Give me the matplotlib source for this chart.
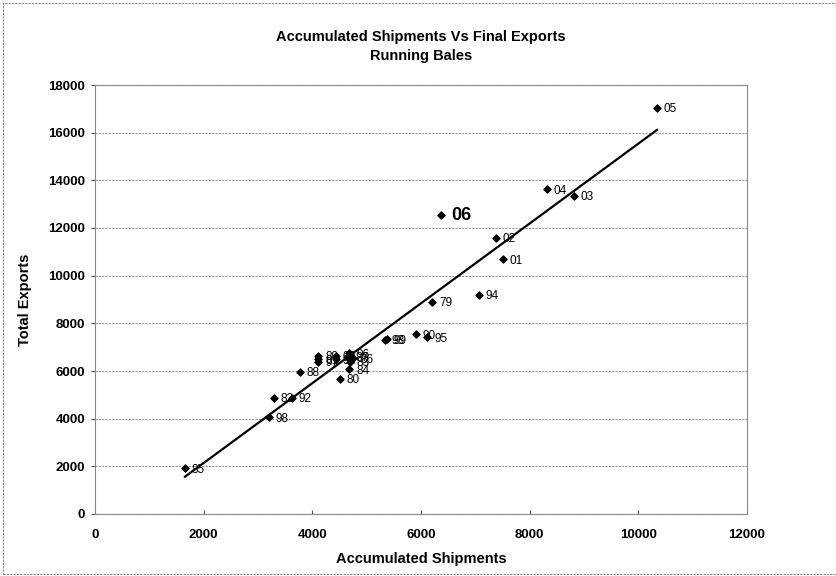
import numpy as np
from matplotlib import pyplot as plt
from matplotlib.patches import Rectangle

# season labels and values
years = ["79", "80", "81", "82", "83", "84", "85", "86", "87", "88", "89", "90", "91", "92",
         "93", "94", "95", "96", "97", "98", "99", "00", "01", "02", "03", "04", "05", "06"]
shipments = [6209, 4510, 4110, 3295, 4694, 4681, 1657, 4754, 4661, 3773, 4110, 5901, 4436, 3620,
             5338, 7062, 6117, 4681, 4110, 3203, 5369, 4436, 7510, 7375, 8811, 8320, 10344, 6369]
exports = [8909, 5679, 6490, 4880, 6391, 6072, 1916, 6534, 6601, 5972, 6630, 7541, 6490, 4880,
           7302, 9190, 7415, 6744, 6390, 4058, 7331, 6630, 10687, 11595, 13357, 13626, 17037, 12534]

# trend line
trend_slope = 1.675
trend_intercept = -1210

plt.rcParams['font.family'] = ['Liberation Sans', 'DejaVu Sans']
fig = plt.figure(figsize=(8.36, 5.76), dpi=100)
ax = fig.add_axes([95 / 836, 62 / 576, 652 / 836, 429 / 576])

# chart area border
fig.patches.append(Rectangle((3 / 836, 2 / 576), 1.0, 571 / 576, transform=fig.transFigure,
                             fill=False, edgecolor='#888888', linestyle=(0, (2, 1)), linewidth=0.8))

x = np.array(shipments[:-1])
xs = np.array([x.min(), x.max()])
ax.plot(xs, trend_slope * xs + trend_intercept, color='black', linewidth=1.6, zorder=2)

ax.scatter(shipments, exports, marker='D', s=13, color='black', zorder=3)

for name, a, c in zip(years, shipments, exports):
    if name == "06":
        ax.annotate(name, (a, c), xytext=(7, 0), textcoords='offset points', va='center',
                    fontsize=13, fontweight='bold')
    else:
        ax.annotate(name, (a, c), xytext=(5, -1), textcoords='offset points', va='center',
                    fontsize=8.5)

ax.set_xlim(0, 12000)
ax.set_ylim(0, 18000)
ax.set_xticks(range(0, 12001, 2000))
ax.set_yticks(range(0, 18001, 2000))
ax.tick_params(axis='x', direction='in', length=3, labelsize=9.5, pad=11, colors='#555555',
               labelcolor='black')
ax.tick_params(axis='y', direction='out', length=3, labelsize=9.5, pad=4, colors='#555555',
               labelcolor='black')
for lab in ax.get_xticklabels() + ax.get_yticklabels():
    lab.set_fontweight('bold')
ax.yaxis.grid(True, color='#999999', linestyle=(0, (2, 1)), linewidth=0.8)
ax.set_axisbelow(True)
for s in ax.spines.values():
    s.set_color('#888888')
    s.set_linewidth(0.8)

ax.set_xlabel("Accumulated Shipments", fontsize=10.5, fontweight='bold', labelpad=8)
ax.set_ylabel("Total Exports", fontsize=10.5, fontweight='bold', labelpad=12)
ax.set_title("Accumulated Shipments Vs Final Exports\nRunning Bales", fontsize=10.5,
             fontweight='bold', pad=18, linespacing=1.5)

plt.savefig('out.png')
